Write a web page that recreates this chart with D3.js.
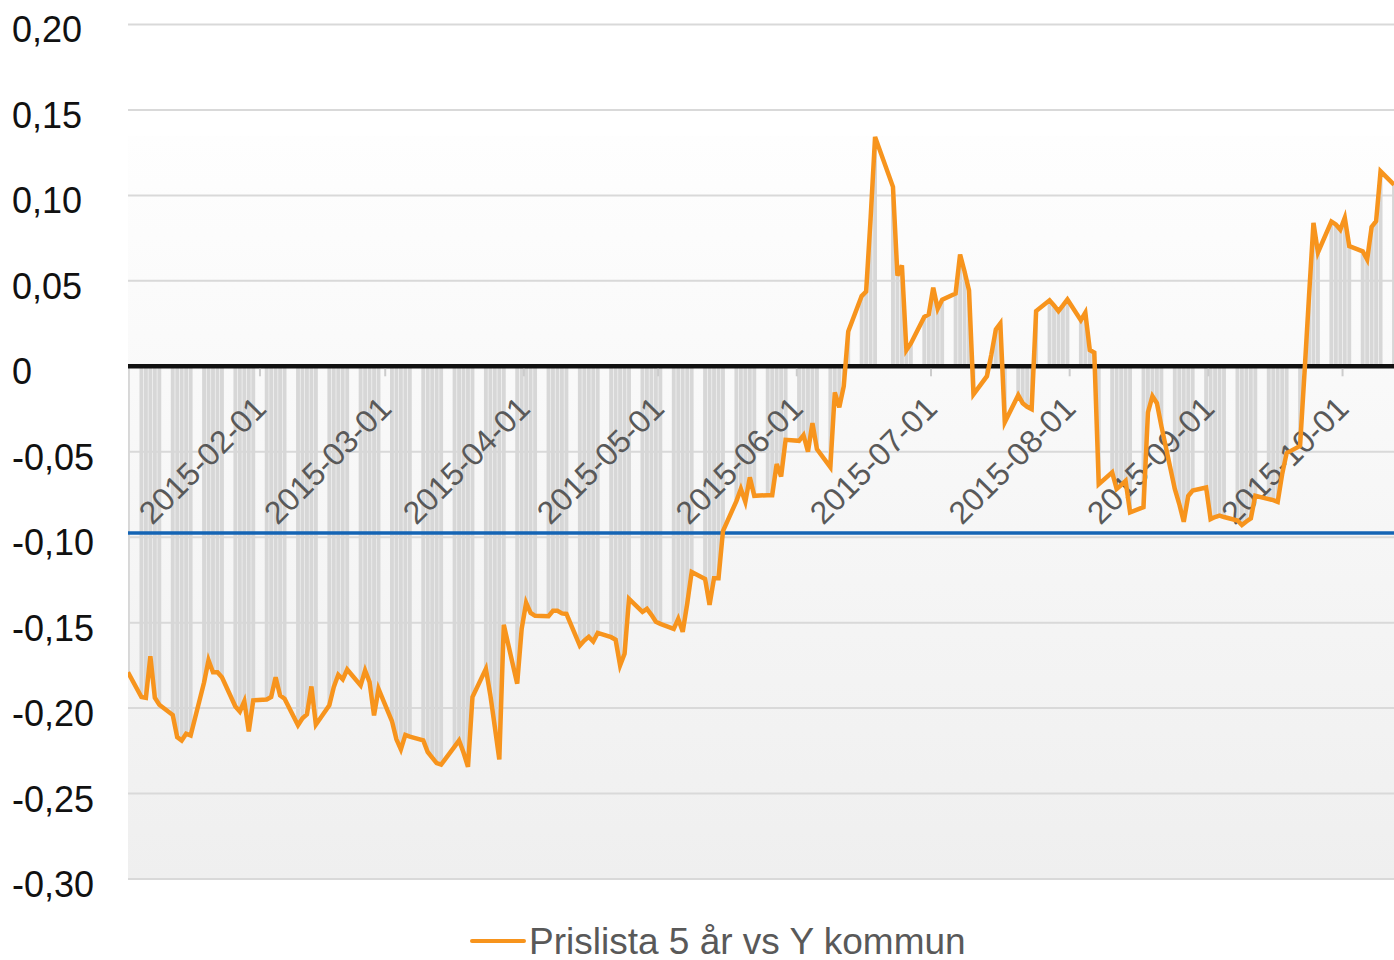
<!DOCTYPE html>
<html>
<head>
<meta charset="utf-8">
<script src="https://cdn.jsdelivr.net/npm/d3@7"></script>
<style>
  body { margin: 0; background: #fff; }
  svg { display: block; font-family: "Liberation Sans", Arial, sans-serif; }
</style>
</head>
<body>
<div id="chart"></div>
<script>
/******  DATA  ******/
// trading days from startDay to endDay, weekends and the listed holidays skipped
var startDay = "2015-01-02";
var endDay = "2015-10-12";
var holidays = ["2015-06-19"];

// one value per trading day, one row per week (Mon..Fri)
var values = [
  -0.179,
  -0.1935, -0.194, -0.1696, -0.194, -0.198,
  -0.204, -0.217, -0.219, -0.215, -0.216,
  -0.185, -0.172, -0.179, -0.179, -0.182,
  -0.199, -0.202, -0.196, -0.2136, -0.1955,
  -0.195, -0.1935, -0.182, -0.1926, -0.1945,
  -0.210, -0.206, -0.2037, -0.1873, -0.2097,
  -0.1984, -0.1877, -0.1805, -0.1832, -0.1774,
  -0.1867, -0.178, -0.1848, -0.2043, -0.1887,
  -0.2076, -0.2183, -0.2242, -0.2157, -0.2167,
  -0.2189, -0.2257, -0.229, -0.2322, -0.2331,
  -0.2225, -0.2189, -0.226, -0.2344, -0.1935,
  -0.177, -0.1925, -0.211, -0.230, -0.1513,
  -0.1857, -0.1536, -0.1384, -0.1443, -0.146,
  -0.1462, -0.1431, -0.1431, -0.1446, -0.1449,
  -0.1634, -0.1605, -0.1583, -0.161, -0.156,
  -0.1585, -0.160, -0.175, -0.1682, -0.1361,
  -0.1437, -0.1419, -0.1454, -0.1495, -0.1507,
  -0.1536, -0.1478, -0.1554, -0.139, -0.1203,
  -0.1244, -0.1396, -0.124, -0.124, -0.0964,
  -0.0789, -0.0718, -0.0793, -0.065, -0.0758,
  -0.0754, -0.0754, -0.0572, -0.0644, -0.043,
  -0.0436, -0.0403, -0.050, -0.0333, -0.0485,
  -0.059, -0.0152, -0.024, -0.0117, 0.0204,
  0.0411, 0.0438, 0.0864, 0.1342,
  0.105, 0.053, 0.059, 0.0095, 0.0134,
  0.0289, 0.0304, 0.046, 0.0337, 0.039,
  0.0426, 0.0654, 0.0555, 0.0444, -0.0164,
  -0.0058, 0.007, 0.0216, 0.0251, -0.0327,
  -0.0169, -0.0216, -0.0237, -0.0251, 0.0323,
  0.0386, 0.0356, 0.0323, 0.0356, 0.0391,
  0.027, 0.0314, 0.0095, 0.008, -0.069,
  -0.0621, -0.0718, -0.0695, -0.067, -0.0855,
  -0.0824, -0.0269, -0.0175, -0.0216, -0.035,
  -0.0718, -0.0806, -0.091, -0.0759, -0.0727,
  -0.0709, -0.0894, -0.0882, -0.0874, -0.0882,
  -0.0902, -0.0929, -0.0908, -0.089, -0.0758,
  -0.0777, -0.0783, -0.0793, -0.0631, -0.0508,
  -0.0466, -0.0035, 0.0409, 0.0839, 0.0666,
  0.0847, 0.083, 0.080, 0.0869, 0.0703,
  0.0673, 0.0625, 0.0816, 0.0849, 0.1141,
  0.1063
];

var yTicks = [0.20, 0.15, 0.10, 0.05, 0, -0.05, -0.10, -0.15, -0.20, -0.25, -0.30];
var refLevel = -0.0975;   // blue reference line
var seriesName = "Prislista 5 år vs Y kommun";

/******  SETUP  ******/
var W = 1394, H = 960;
var margin = {top: 24.5, right: 0, bottom: 81, left: 128},
  width = W - margin.left - margin.right,
  height = H - margin.top - margin.bottom;

var parse = d3.utcParse("%Y-%m-%d");
var holidaySet = new Set(holidays);
var fmtDay = d3.utcFormat("%Y-%m-%d");

var days = d3.utcDay.range(parse(startDay), d3.utcDay.offset(parse(endDay), 1))
  .filter(function(d) {
    var wd = d.getUTCDay();
    return wd !== 0 && wd !== 6 && !holidaySet.has(fmtDay(d));
  });

var data = days.map(function(d, i) {
  return {day: d, mid: d3.utcHour.offset(d, 12), value: values[i]};
});

var locale = d3.formatLocale({decimal: ",", thousands: " ", grouping: [3], currency: ["", " kr"], minus: "-"});
var yFmt = function(v) { return v === 0 ? "0" : locale.format(".2f")(v); };

var x = d3.scaleUtc()
  .domain([data[0].mid, data[data.length - 1].mid])
  .range([margin.left, W - margin.right]);

var y = d3.scaleLinear()
  .domain([-0.30, 0.20])
  .range([margin.top + height, margin.top]);

var svg = d3.select("#chart")
  .append("svg")
  .attr("width", W)
  .attr("height", H);

var defs = svg.append("defs");
var grad = defs.append("linearGradient")
  .attr("id", "bg")
  .attr("x1", 0).attr("x2", 0).attr("y1", 0).attr("y2", 1);
grad.append("stop").attr("offset", "0").attr("stop-color", "#fefefe");
grad.append("stop").attr("offset", "1").attr("stop-color", "#efefef");

defs.append("clipPath").attr("id", "plotclip")
  .append("rect")
  .attr("x", margin.left).attr("y", margin.top)
  .attr("width", width).attr("height", height);

/******  BACKGROUND & GRID  ******/
svg.append("rect")
  .attr("x", margin.left)
  .attr("y", y(0.135))
  .attr("width", width)
  .attr("height", y(-0.30) - y(0.135))
  .attr("fill", "url(#bg)");

svg.append("g")
  .selectAll("line")
  .data(yTicks.filter(function(t) { return t !== 0; }))
  .enter()
  .append("line")
    .attr("x1", margin.left)
    .attr("x2", W - margin.right)
    .attr("y1", function(d) { return y(d); })
    .attr("y2", function(d) { return y(d); })
    .attr("stroke", "#d9d9d9")
    .attr("stroke-width", 2);

/******  BARS  ******/
svg.append("g")
  .attr("clip-path", "url(#plotclip)")
  .selectAll("rect")
  .data(data)
  .enter()
  .append("rect")
    .attr("x", function(d) { return x(d.day) + 0.3; })
    .attr("width", function(d) { return x(d3.utcDay.offset(d.day, 1)) - x(d.day) - 0.6; })
    .attr("y", function(d) { return Math.min(y(d.value), y(0)); })
    .attr("height", function(d) { return Math.abs(y(d.value) - y(0)); })
    .attr("fill", "#d7d7d7");

/******  REFERENCE LINES  ******/
svg.append("line")
  .attr("x1", margin.left).attr("x2", W - margin.right)
  .attr("y1", y(refLevel)).attr("y2", y(refLevel))
  .attr("stroke", "#1464b4")
  .attr("stroke-width", 3.5);

svg.append("line")
  .attr("x1", margin.left).attr("x2", W - margin.right)
  .attr("y1", y(0)).attr("y2", y(0))
  .attr("stroke", "#111")
  .attr("stroke-width", 4.5);

/******  X TICKS & LABELS  ******/
var months = d3.utcMonth.range(d3.utcMonth.ceil(x.domain()[0]), x.domain()[1]);

svg.append("g")
  .selectAll("line")
  .data(months)
  .enter()
  .append("line")
    .attr("x1", function(d) { return x(d); })
    .attr("x2", function(d) { return x(d); })
    .attr("y1", y(0) + 2.5)
    .attr("y2", y(0) + 10)
    .attr("stroke", "#cccccc")
    .attr("stroke-width", 2);

svg.append("g")
  .selectAll("text")
  .data(months)
  .enter()
  .append("text")
    .attr("transform", function(d) { return "translate(" + (x(d) + 8) + "," + (y(0) + 44) + ") rotate(-45)"; })
    .attr("text-anchor", "end")
    .style("font-size", "32px")
    .style("fill", "#595959")
    .text(function(d) { return fmtDay(d); });

/******  Y LABELS  ******/
svg.append("g")
  .selectAll("text")
  .data(yTicks)
  .enter()
  .append("text")
    .attr("x", 12)
    .attr("y", function(d) { return y(d) + 5; })
    .attr("dy", "0.36em")
    .style("font-size", "36px")
    .style("fill", "#111")
    .text(yFmt);

/******  LINE  ******/
var line = d3.line()
  .x(function(d) { return x(d.mid); })
  .y(function(d) { return y(d.value); });

svg.append("path")
  .datum(data)
  .attr("clip-path", "url(#plotclip)")
  .attr("d", line)
  .attr("fill", "none")
  .attr("stroke", "#f7941d")
  .attr("stroke-width", 4.5)
  .attr("stroke-linejoin", "miter");

/******  LEGEND  ******/
var legend = svg.append("g").attr("transform", "translate(470, 941)");
legend.append("line")
  .attr("x1", 2).attr("x2", 54)
  .attr("y1", 0).attr("y2", 0)
  .attr("stroke", "#f7941d")
  .attr("stroke-width", 4)
  .attr("stroke-linecap", "round");
legend.append("text")
  .attr("x", 59)
  .attr("y", 0)
  .attr("dy", "0.36em")
  .style("font-size", "37px")
  .style("fill", "#595959")
  .text(seriesName);
</script>
</body>
</html>
